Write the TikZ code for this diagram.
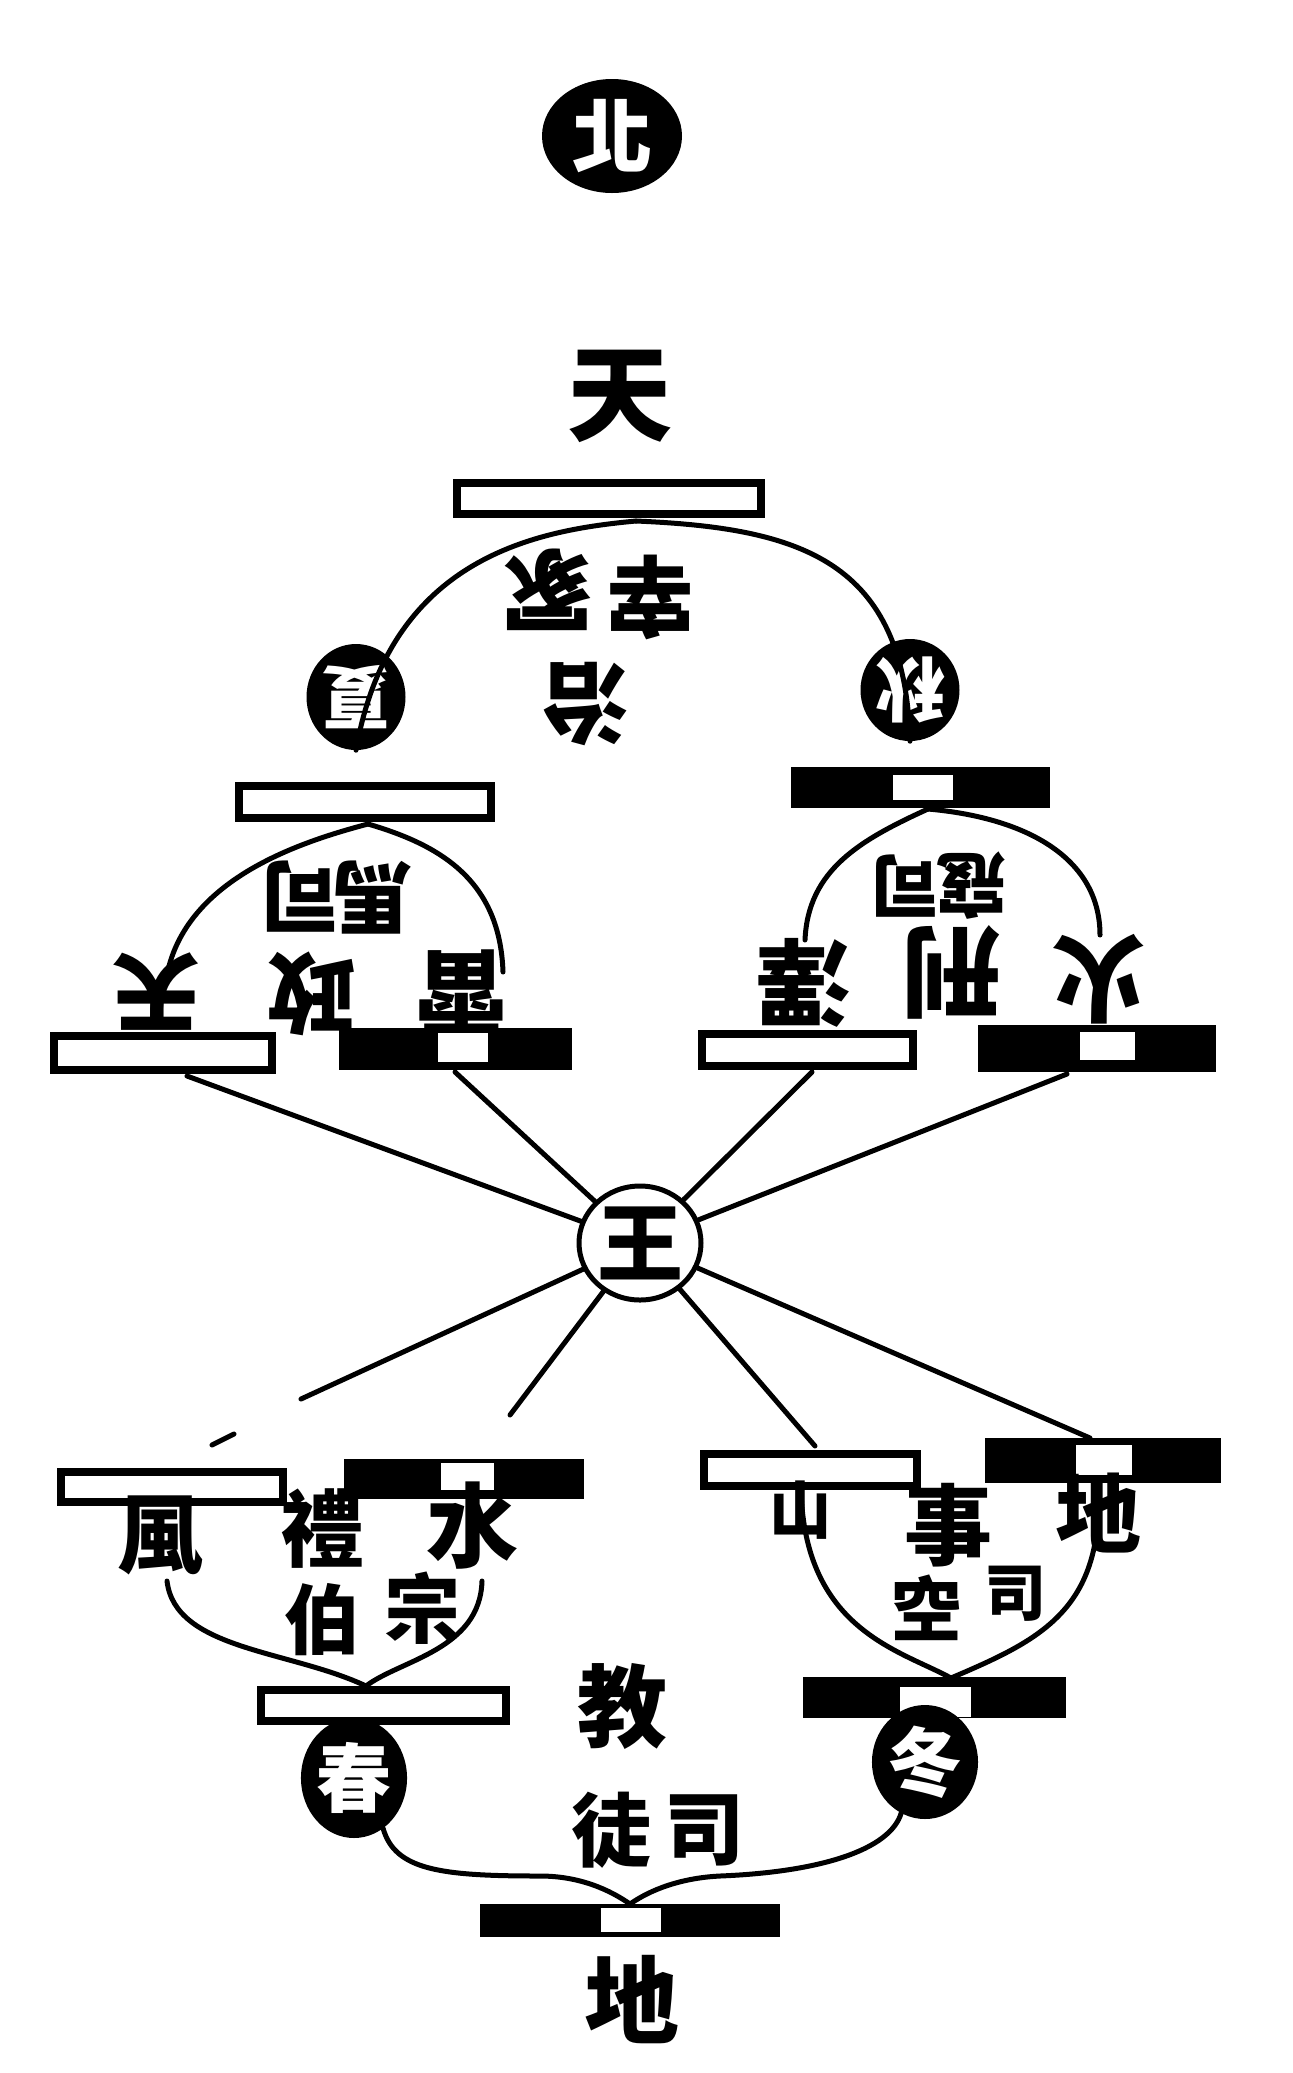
\documentclass[tikz,border=0pt]{standalone}
\usepackage{fontspec}
\newfontfamily\cjk{Noto Sans CJK TC}
\newcommand\cjksz[1]{\fontsize{#1}{#1}\selectfont}
\usetikzlibrary{shapes.geometric}
\begin{document}
\begin{tikzpicture}[x=1pt,y=-1pt,
  conn/.style={line width=5pt, line cap=round},
  wbar/.style={draw, fill=white, line width=8pt, inner sep=0pt, rectangle},
  bbar/.style={fill=black, inner sep=0pt, rectangle},
  slot/.style={fill=white, inner sep=0pt, rectangle},
  bcirc/.style={ellipse, fill=black, text=white, inner sep=0pt},
  ch/.style={inner sep=0pt, font=\cjk\bfseries\cjksz{#1}},
  ch/.default=85,
  inv/.style={rotate=180}
]
\fill[white] (0,0) rectangle (1293,2073);
\useasboundingbox (0,0) rectangle (1293,2073);

% ---------- top ----------
\node[bcirc, minimum width=140, minimum height=114, ch=80] (bei) at (612,136) {北};
\node[ch=105] (tian) at (620,396) {天};
\node[wbar, minimum width=304, minimum height=31] (btop) at (609,498.5) {};
\coordinate (ftop) at (636,521);

\node[bcirc, minimum width=90, minimum height=106, ch=70, inv] (xia) at (356,697) {夏};
\node[bcirc, minimum width=90, minimum height=102, ch=70, inv] (qiu) at (910,690) {秋};
\draw[conn] (ftop) .. controls (540,530) and (390,555) .. (xia.north);
\draw[conn] (ftop) .. controls (800,528) and (905,560) .. (qiu.north);

\node[ch=90, inv] (zhong) at (547,590) {冢};
\node[ch=88, inv] (zai) at (650,597) {宰};
\node[ch=88, inv] (zhi) at (585,704) {治};

% ---------- upper-left group ----------
\node[wbar, minimum width=252, minimum height=32] (bul) at (365,802) {};
\coordinate (ful) at (368,824);
\coordinate (ulL) at (168,970);
\coordinate (ulR) at (503,972);
\draw[conn] (ful) .. controls (300,842) and (190,878) .. (ulL);
\draw[conn] (ful) .. controls (440,845) and (500,880) .. (ulR);
\node[ch=80, inv] (si1) at (300,897) {司};
\node[ch=80, inv] (ma) at (372,897) {馬};
\node[ch=88, inv] (tian2) at (156,992) {天};
\node[ch=88, inv] (zheng) at (311,994) {政};
\node[ch=92, inv] (lei) at (461,992) {雷};

% ---------- upper-right group ----------
\node[bbar, minimum width=259, minimum height=41] (bur) at (920.5,787.5) {};
\node[slot, minimum width=60, minimum height=25] (sur) at (923,787) {};
\coordinate (fur) at (928,809);
\coordinate (urL) at (805,940);
\coordinate (urR) at (1100,935);
\draw[conn] (fur) .. controls (860,840) and (808,870) .. (urL);
\draw[conn] (fur) .. controls (1030,818) and (1100,860) .. (urR);
\node[ch=70, inv] (si2) at (905,886) {司};
\node[ch=70, inv] (kou) at (971,886) {寇};
\node[ch=95, inv] (ze) at (804,983) {澤};
\node[ch=100, inv] (xing) at (951,972) {刑};
\node[ch=95, inv] (huo) at (1099,979) {火};

% ---------- middle bars ----------
\node[wbar, minimum width=218, minimum height=34] (bA) at (163,1053) {};
\node[bbar, minimum width=233, minimum height=42] (bB) at (455.5,1049) {};
\node[slot, minimum width=50, minimum height=29] (sB) at (463,1047.5) {};
\node[wbar, minimum width=211, minimum height=32] (bC) at (807.5,1050) {};
\node[bbar, minimum width=238, minimum height=47] (bD) at (1097,1048.5) {};
\node[slot, minimum width=55, minimum height=28] (sD) at (1107.5,1046) {};

% ---------- king ----------
\node[ellipse, draw, fill=white, line width=5pt, minimum width=122, minimum height=114, inner sep=0pt, ch=86] (wang) at (640,1243) {王};

\coordinate (eA) at (187,1076);
\coordinate (eB) at (455,1072);
\coordinate (eC) at (812,1072);
\coordinate (eD) at (1067,1074);
\draw[conn] (wang) -- (eA);
\draw[conn] (wang) -- (eB);
\draw[conn] (wang) -- (eC);
\draw[conn] (wang) -- (eD);

\coordinate (eE) at (301,1399);
\coordinate (eE1) at (234,1434);
\coordinate (eE2) at (212,1445);
\coordinate (eF) at (510,1415);
\coordinate (eG) at (815,1446);
\coordinate (eH) at (1090,1438);
\draw[conn] (wang) -- (eE);
\draw[conn] (eE1) -- (eE2);
\draw[conn] (wang) -- (eF);
\draw[conn] (wang) -- (eG);
\draw[conn] (wang) -- (eH);

% ---------- lower bars ----------
\node[wbar, minimum width=222, minimum height=30] (bE) at (172,1487) {};
\node[bbar, minimum width=240, minimum height=40] (bF) at (464,1479) {};
\node[slot, minimum width=53, minimum height=27] (sF) at (467.5,1476.5) {};
\node[wbar, minimum width=213, minimum height=32] (bG) at (810.5,1470) {};
\node[bbar, minimum width=236, minimum height=45] (bH) at (1103,1460.5) {};
\node[slot, minimum width=56, minimum height=30] (sH) at (1104,1460) {};

% ---------- lower-left group ----------
\node[ch=86] (feng) at (160,1535) {風};
\node[ch=84] (li) at (322,1529) {禮};
\node[ch=92] (shui) at (472,1526) {水};
\node[ch=76] (bo) at (322,1620) {伯};
\node[ch=76] (zong) at (422,1608) {宗};
\node[wbar, minimum width=245, minimum height=31] (bI) at (383.5,1705.5) {};
\coordinate (vI) at (366,1686);
\coordinate (llL) at (167,1581);
\coordinate (llR) at (482,1581);
\draw[conn] (llL) .. controls (175,1650) and (290,1650) .. (vI);
\draw[conn] (llR) .. controls (480,1650) and (400,1660) .. (vI);

% ---------- lower-right group ----------
\node[ch=62] (shan) at (800,1510) {山};
\node[ch=88] (shi) at (948,1525) {事};
\node[ch=86] (di1) at (1098,1513) {地};
\node[ch=70] (kong) at (926,1608) {空};
\node[ch=62] (si3) at (1015,1594) {司};
\node[bbar, minimum width=263, minimum height=41] (bJ) at (934.5,1697.5) {};
\node[slot, minimum width=71, minimum height=30] (sJ) at (935.5,1702) {};
\coordinate (vJ) at (951,1678);
\coordinate (lrL) at (801,1490);
\coordinate (lrR) at (1098,1483);
\draw[conn] (lrL) .. controls (805,1630) and (900,1650) .. (vJ);
\draw[conn] (lrR) .. controls (1105,1610) and (1040,1640) .. (vJ);

% ---------- bottom ----------
\node[bcirc, minimum width=94, minimum height=120, ch=75] (chun) at (354,1778) {春};
\node[bcirc, minimum width=100, minimum height=114, ch=75] (dong) at (925,1762) {冬};
\node[ch=90] (jiao) at (622,1706) {教};
\node[ch=80] (tu) at (611,1830) {徒};
\node[ch=80] (si4) at (704,1830) {司};
\node[bbar, minimum width=300, minimum height=33] (bK) at (630,1920.5) {};
\node[slot, minimum width=60, minimum height=24] (sK) at (631,1920) {};
\coordinate (vK) at (630,1904);
\draw[conn] (chun.-60) .. controls (395,1870) and (440,1876) .. (540,1876) .. controls (580,1876) and (610,1890) .. (vK);
\draw[conn] (dong.-115) .. controls (890,1850) and (820,1872) .. (720,1876) .. controls (680,1878) and (650,1890) .. (vK);
\node[ch=95] (di2) at (632,2000) {地};
\end{tikzpicture}
\end{document}
